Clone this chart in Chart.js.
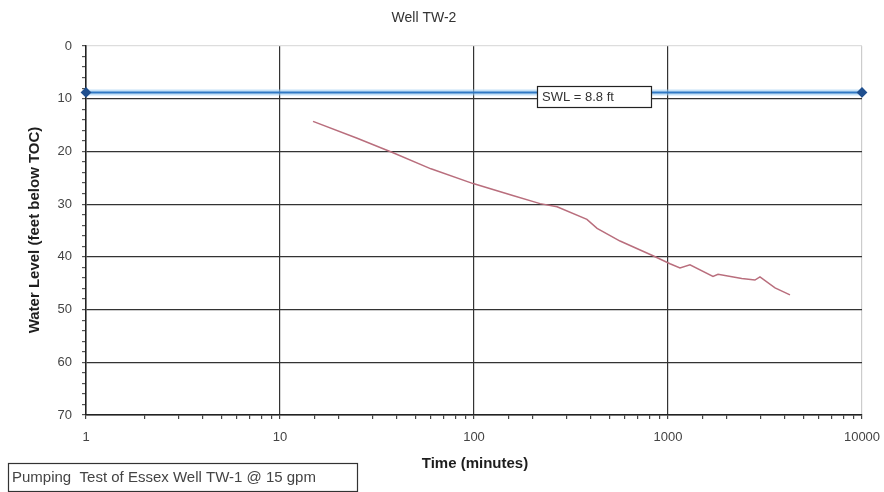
<!DOCTYPE html>
<html>
<head>
<meta charset="utf-8">
<script src="https://cdn.jsdelivr.net/npm/chart.js@4.4.1/dist/chart.umd.min.js"></script>
<style>
  html, body { margin: 0; padding: 0; background: #fff; }
  #wrap { width: 884px; height: 492px; position: relative; }
</style>
</head>
<body>
<div id="wrap"><canvas id="chart" width="884" height="492"></canvas></div>
<script>
// pumping test readings (time in minutes, water level in feet below TOC)
const timeMin = [14.8, 25, 38, 60, 99, 160, 219, 268, 382, 431, 566, 837, 1024, 1153, 1298, 1706, 1811, 2400, 2806, 2979, 3562, 4254];
const levelFt = [14.3, 17.5, 20.2, 23.3, 26.1, 28.4, 29.9, 30.5, 32.9, 34.6, 37.0, 39.8, 41.3, 42.1, 41.5, 43.7, 43.3, 44.1, 44.4, 43.8, 45.9, 47.2];

// static water level
const swlTime = [1, 10000];
const swlLevel = [8.8, 8.8];

const xTickLabels = [1, 10, 100, 1000, 10000];
const yTickLabels = [0, 10, 20, 30, 40, 50, 60, 70];

const FONT = '"Liberation Sans", Arial, sans-serif';

const drawdown = timeMin.map((t, i) => ({ x: t, y: levelFt[i] }));
const swl = swlTime.map((t, i) => ({ x: t, y: swlLevel[i] }));

const isDecade = v => xTickLabels.indexOf(v) >= 0;

const textPlugin = {
    id: 'texts',
    afterDraw(chart) {
        const ctx = chart.ctx;
        ctx.save();
        ctx.fillStyle = '#333';
        ctx.textAlign = 'center';
        ctx.textBaseline = 'middle';
        ctx.font = '14px ' + FONT;
        ctx.fillText('Well TW-2', 424, 18);

        ctx.fillStyle = '#1e1e1e';
        ctx.font = 'bold 15px ' + FONT;
        ctx.fillText('Time (minutes)', 475, 464);

        ctx.save();
        ctx.translate(35, 230);
        ctx.rotate(-Math.PI / 2);
        ctx.fillText('Water Level (feet below TOC)', 0, 0);
        ctx.restore();

        // SWL label box
        ctx.fillStyle = '#fff';
        ctx.fillRect(537, 86, 114, 21);
        ctx.strokeStyle = '#222';
        ctx.lineWidth = 1.2;
        ctx.strokeRect(537.5, 86.5, 114, 21);
        ctx.fillStyle = '#333';
        ctx.font = '13px ' + FONT;
        ctx.textAlign = 'left';
        ctx.fillText('SWL = 8.8 ft', 542, 97);

        // caption box
        ctx.strokeStyle = '#333';
        ctx.strokeRect(8.5, 463.5, 349, 28);
        ctx.fillStyle = '#444';
        ctx.font = '15px ' + FONT;
        ctx.fillText('Pumping  Test of Essex Well TW-1 @ 15 gpm', 12, 478);
        ctx.restore();
    }
};

new Chart(document.getElementById('chart'), {
    type: 'line',
    data: {
        datasets: [
            {
                data: swl,
                borderColor: 'rgba(150,200,240,0.55)',
                borderWidth: 6,
                pointRadius: 0,
                clip: false,
                order: 3
            },
            {
                data: swl,
                borderColor: '#2f78c4',
                borderWidth: 2,
                pointStyle: 'rectRot',
                pointRadius: 4,
                pointBackgroundColor: '#1f4f8f',
                pointBorderColor: '#1f4f8f',
                clip: false,
                order: 2
            },
            {
                data: drawdown,
                borderColor: 'rgb(185,110,125)',
                borderWidth: 1.5,
                pointRadius: 0,
                tension: 0,
                order: 1
            }
        ]
    },
    options: {
        responsive: false,
        animation: false,
        layout: { padding: { top: 46, right: 22, left: 0, bottom: 0 } },
        plugins: { legend: { display: false }, tooltip: { enabled: false } },
        scales: {
            x: {
                type: 'logarithmic',
                min: 1,
                max: 10000,
                border: { color: '#222', width: 1.5 },
                grid: {
                    color: c => {
                        const v = c.tick.value;
                        if (v === 10000) return '#ccc';
                        return isDecade(v) ? '#333' : 'rgba(0,0,0,0)';
                    },
                    lineWidth: 1.2,
                    tickColor: '#444',
                    tickLength: 4
                },
                ticks: {
                    autoSkip: false,
                    maxRotation: 0,
                    color: '#444',
                    font: { family: FONT, size: 13 },
                    padding: 11,
                    callback: v => isDecade(v) ? String(v) : ''
                },
                afterFit: s => {
                    s.height = 77;
                    s.paddingLeft = 0;
                    s.paddingRight = 0;
                }
            },
            y: {
                type: 'linear',
                reverse: true,
                min: 0,
                max: 70,
                border: { color: '#222', width: 1.5 },
                grid: {
                    color: c => {
                        const v = c.tick.value;
                        if (v === 0) return '#ddd';
                        return (v % 10 === 0) ? '#333' : 'rgba(0,0,0,0)';
                    },
                    lineWidth: 1.2,
                    tickColor: '#555',
                    tickLength: 4
                },
                ticks: {
                    stepSize: 2,
                    autoSkip: false,
                    color: '#444',
                    font: { family: FONT, size: 13 },
                    padding: 10,
                    callback: v => yTickLabels.indexOf(v) >= 0 ? String(v) : ''
                },
                afterFit: s => {
                    s.width = 86;
                    s.paddingTop = 0;
                    s.paddingBottom = 0;
                }
            }
        }
    },
    plugins: [textPlugin]
});
</script>
</body>
</html>
